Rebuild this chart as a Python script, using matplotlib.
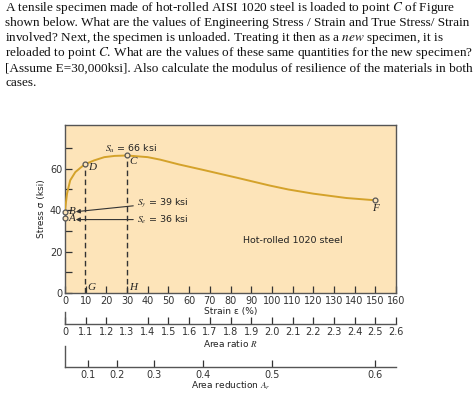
import numpy as np
import matplotlib
matplotlib.use("Agg")
import matplotlib.pyplot as plt

# stress-strain curve for hot-rolled 1020 steel
strain = [0, 1, 2.5, 5, 7.5, 9.5, 14, 19, 24, 30, 40, 46, 55, 67, 83, 99, 108, 120, 136, 150]
stress = [40, 48, 54.3, 58.3, 60.4, 62, 63.9, 65.5, 66.1, 66.3, 65.5, 64.3, 62, 59.3, 55.6, 51.8, 49.9, 47.9, 45.8, 44.7]

# marked points
pt_names = ["A", "B", "C", "D", "F"]
pt_strain = [0, 0, 30, 9.5, 150]
pt_stress = [36, 39, 66.3, 62, 44.7]

strain_ticks = list(range(0, 161, 10))
ratio_labels = ["0", "1.1", "1.2", "1.3", "1.4", "1.5", "1.6", "1.7", "1.8", "1.9",
                "2.0", "2.1", "2.2", "2.3", "2.4", "2.5", "2.6"]
reduction_vals = [0.1, 0.2, 0.3, 0.4, 0.5, 0.6]

question = [
    "A tensile specimen made of hot-rolled AISI 1020 steel is loaded to point $C$ of Figure",
    "shown below. What are the values of Engineering Stress / Strain and True Stress/ Strain",
    "involved? Next, the specimen is unloaded. Treating it then as a $new$ specimen, it is",
    "reloaded to point $C$. What are the values of these same quantities for the new specimen?",
    "[Assume E=30,000ksi]. Also calculate the modulus of resilience of the materials in both",
    "cases.",
]

W, H = 474, 395
fig = plt.figure(figsize=(W / 100, H / 100), dpi=100)
plt.rcParams["mathtext.fontset"] = "stix"

def box(l, t, r, b):
    return [l / W, 1 - b / H, (r - l) / W, (b - t) / H]

# question text
for i, line in enumerate(question):
    fig.text(5 / W, 1 - (11 + 15.1 * i) / H, line, family="Liberation Serif",
             fontsize=9.5, va="baseline", ha="left", color="#111111")

bg = "#fde4b9"
curve_col = "#d4a22a"
ax = fig.add_axes(box(65, 125, 396, 293))
ax.set_facecolor(bg)
ax.set_xlim(0, 160)
ax.set_ylim(0, 81)
ax.plot(strain, stress, color=curve_col, lw=1.4, zorder=3)
ax.plot(pt_strain, pt_stress, "o", ms=3.5, mfc=bg, mec="#555555", mew=0.9, zorder=5, clip_on=False)

# dashed drop lines from D and C
for n in ["D", "C"]:
    i = pt_names.index(n)
    ax.plot([pt_strain[i], pt_strain[i]], [0, pt_stress[i]], ls=(0, (4, 2.5)), color="#333333", lw=1.0, zorder=2)

lab = dict(family="Liberation Serif", style="italic", fontsize=8, color="#222222")
ax.text(11, 60.5, "D", va="center", ha="left", **lab)
ax.text(31, 63.5, "C", va="center", ha="left", **lab)
ax.text(1.8, 39.3, "B", va="center", ha="left", **lab)
ax.text(1.8, 35.7, "A", va="center", ha="left", **lab)
ax.text(150, 40.5, "F", va="center", ha="center", **lab)
ax.text(11, 2.5, "G", va="center", ha="left", **lab)
ax.text(31, 2.5, "H", va="center", ha="left", **lab)

sans = dict(family="DejaVu Sans", fontsize=6.8, color="#222222")
ax.text(32, 69.5, "$S_u$ = 66 ksi", ha="center", va="center", **sans)
ax.annotate("$S_y$ = 39 ksi", xy=(5.2, 39.2), xytext=(35, 43.5), va="center", ha="left",
            arrowprops=dict(arrowstyle="-|>", color="#333333", lw=0.8, mutation_scale=6,
                            shrinkA=1, shrinkB=0), **sans)
ax.annotate("$S_e$ = 36 ksi", xy=(5.2, 35.4), xytext=(35, 35.4), va="center", ha="left",
            arrowprops=dict(arrowstyle="-|>", color="#333333", lw=0.8, mutation_scale=6,
                            shrinkA=1, shrinkB=0), **sans)
ax.text(110, 25.5, "Hot-rolled 1020 steel", ha="center", va="center", **sans)

ax.set_xticks(strain_ticks)
ax.set_yticks(range(0, 71, 10))
ax.set_yticklabels(["0", "", "20", "", "40", "", "60", ""])
ax.tick_params(direction="in", length=5, width=0.9, labelsize=7, pad=2, colors="#333333")
ax.tick_params(axis="x", pad=2)
for s in ax.spines.values():
    s.set_color("#555555")
    s.set_linewidth(1.0)
ax.set_xlabel("Strain \u03b5 (%)", fontsize=6.5, labelpad=1, color="#222222")
ax.set_ylabel("Stress \u03c3 (ksi)", fontsize=6.5, labelpad=3, color="#222222")

def scale_axis(top, bottom):
    a = fig.add_axes(box(65, top, 396, bottom))
    a.set_xlim(0, 160)
    a.set_ylim(0, 1)
    a.patch.set_visible(False)
    a.spines["top"].set_visible(False)
    a.spines["right"].set_visible(False)
    for s in ["bottom", "left"]:
        a.spines[s].set_color("#555555")
        a.spines[s].set_linewidth(1.0)
    a.set_yticks([])
    a.tick_params(axis="x", direction="in", length=5, width=0.9, labelsize=7, pad=2, colors="#333333")
    return a

# area ratio R = 1 + strain
ar = scale_axis(312, 324)
ar.set_xticks(strain_ticks)
ar.set_xticklabels(ratio_labels)
ar.xaxis.get_major_ticks()[3].tick1line.set_visible(False)
ar.set_xlabel("Area ratio $R$", fontsize=6.5, labelpad=1, color="#222222")

# area reduction Ar = 1 - 1/R
rd = scale_axis(346, 367)
rd.set_xticks([100 * (1 / (1 - v) - 1) for v in reduction_vals])
rd.set_xticklabels([str(v) for v in reduction_vals])
rd.set_xlabel("Area reduction $A_r$", fontsize=6.5, labelpad=0, color="#222222")

fig.savefig("out.png", dpi=100)
